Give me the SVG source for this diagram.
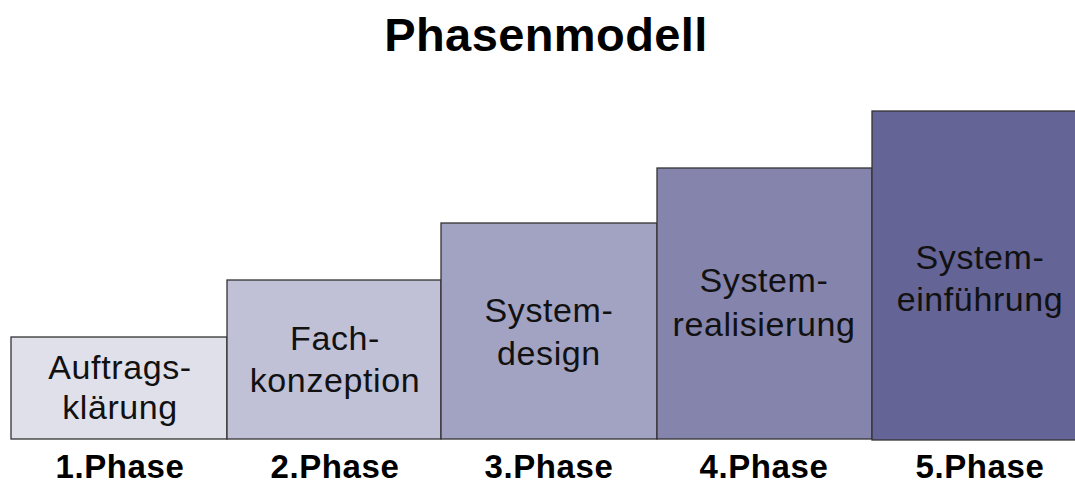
<svg xmlns="http://www.w3.org/2000/svg" width="1075" height="485" viewBox="0 0 1075 485">
<style>
.box{stroke:#333;stroke-width:1.3}
.t{font-family:"Liberation Sans",Arial,sans-serif;font-size:34px;letter-spacing:0.6px;fill:#111;text-anchor:middle}
.p{font-family:"Liberation Sans",Arial,sans-serif;font-size:33px;letter-spacing:0.6px;font-weight:bold;fill:#000;text-anchor:middle}
.title{font-family:"Liberation Sans",Arial,sans-serif;font-size:47px;letter-spacing:0.4px;font-weight:bold;fill:#000;text-anchor:middle}
</style>
<rect width="1075" height="485" fill="#fff"/>
<text class="title" x="546" y="51">Phasenmodell</text>
<g id="phase1">
<rect class="box" x="11" y="337" width="216" height="102" fill="#e0e0ea"/>
<text class="t" x="120" y="379">Auftrags-</text>
<text class="t" x="120" y="419">klärung</text>
<text class="p" x="120" y="478">1.Phase</text>
</g>
<g id="phase2">
<rect class="box" x="227" y="280" width="214" height="159" fill="#c0c0d6"/>
<text class="t" x="335" y="350">Fach-</text>
<text class="t" x="335" y="392">konzeption</text>
<text class="p" x="335" y="478">2.Phase</text>
</g>
<g id="phase3">
<rect class="box" x="441" y="223" width="216" height="216" fill="#a2a2c2"/>
<text class="t" x="549" y="322">System-</text>
<text class="t" x="549" y="365">design</text>
<text class="p" x="549" y="478">3.Phase</text>
</g>
<g id="phase4">
<rect class="box" x="657" y="168" width="215" height="271" fill="#8484ac"/>
<text class="t" x="764" y="292">System-</text>
<text class="t" x="764" y="336">realisierung</text>
<text class="p" x="764" y="478">4.Phase</text>
</g>
<g id="phase5">
<rect class="box" x="872" y="111" width="215" height="329" fill="#646496"/>
<text class="t" x="980" y="269">System-</text>
<text class="t" x="980" y="311">einführung</text>
<text class="p" x="980" y="478">5.Phase</text>
</g>
<g id="connectors"></g>
</svg>
